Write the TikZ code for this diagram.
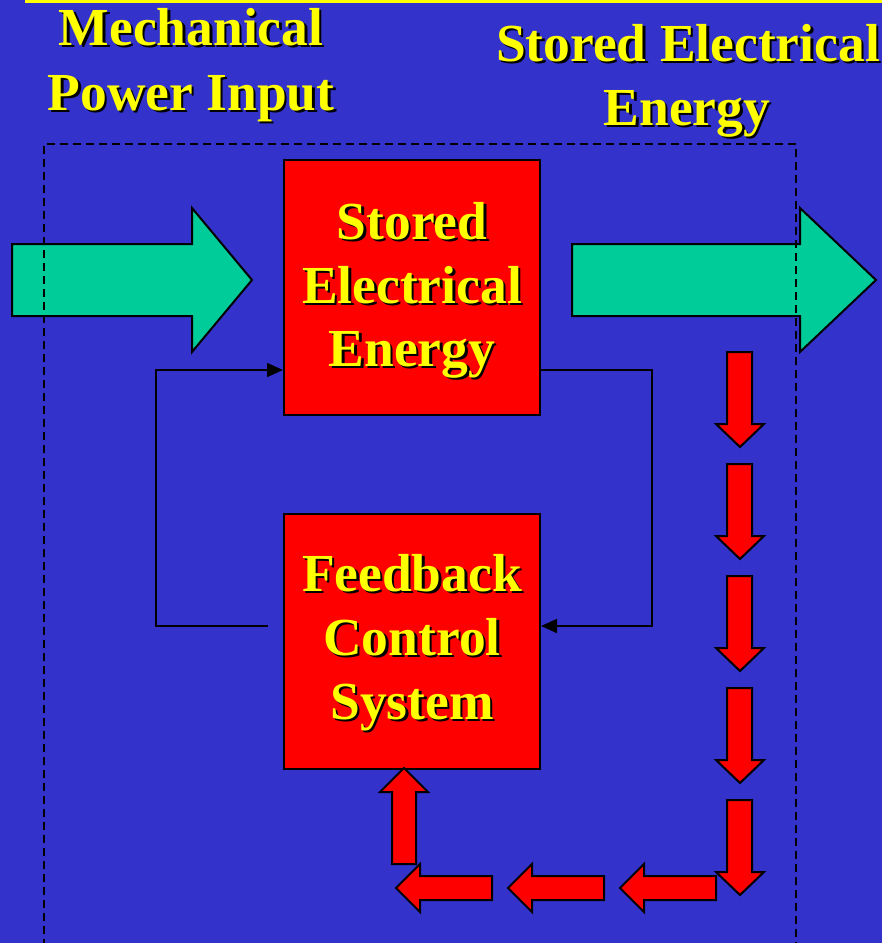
\documentclass[tikz,border=0pt]{standalone}
\usepackage{fontspec}
\setmainfont{Liberation Serif}
\usetikzlibrary{arrows.meta}
\definecolor{bg}{RGB}{51,51,204}
\definecolor{boxred}{RGB}{255,0,0}
\definecolor{flowgreen}{RGB}{0,204,153}
\definecolor{txtyellow}{RGB}{255,255,0}
\tikzset{
  blockbox/.style={draw=black, line width=2pt, fill=boxred, minimum width=256pt, minimum height=255pt, inner sep=0pt},
  greenflow/.style={draw=black, line width=2pt, fill=flowgreen, line join=miter},
  redflow/.style={draw=black, line width=2pt, fill=boxred, line join=miter},
  loopline/.style={draw=black, line width=1.6pt, -{Triangle[length=16pt,width=14pt]}},
  dashframe/.style={draw=black, line width=1.5pt, dash pattern=on 8pt off 5pt},
  lbltext/.style={font=\fontsize{53.5}{63}\selectfont\bfseries, text=txtyellow, anchor=base, inner sep=0pt},
}
\newcommand\shtext[4]{%
  \node[lbltext] (#1) at (#2,#3) {\rlap{\hspace{2.5pt}\raisebox{-2.5pt}{\color{black}#4}}#4};}
\newcommand\reddownblk[1]{%
  \draw[redflow] (727,#1) -- (752,#1) -- (752,#1+72) -- (764,#1+72) -- (740,#1+95) -- (716,#1+72) -- (727,#1+72) -- cycle;}
\newcommand\redleftblk[1]{%
  \draw[redflow] (#1,876) -- (#1,900) -- (#1-72,900) -- (#1-72,912) -- (#1-96,888) -- (#1-72,864) -- (#1-72,876) -- cycle;}
\begin{document}
\begin{tikzpicture}[x=1pt,y=-1pt]
\useasboundingbox (0,0) rectangle (882,943);
\clip (0,0) rectangle (882,943);
\fill[bg] (0,0) rectangle (882,943);
\fill[txtyellow] (25,0) rectangle (882,2.5);

% green flow arrows
\draw[greenflow] (12,244) -- (192,244) -- (192,208) -- (252,280) -- (192,352) -- (192,316) -- (12,316) -- cycle;
\draw[greenflow] (572,244) -- (800,244) -- (800,208) -- (876,280) -- (800,352) -- (800,316) -- (572,316) -- cycle;

% dashed system boundary
\draw[dashframe] (44,960) -- (44,144) -- (796,144) -- (796,960);

% blocks
\node[blockbox] (store) at (412,287.5) {};
\node[blockbox] (ctrl) at (412,641.5) {};

% feedback loop
\coordinate (r1) at (652,370);
\coordinate (r2) at (652,626);
\draw[loopline] (store.east |- r1) -- (r1) -- (r2) -- (ctrl.east |- r2);
\coordinate (lstart) at (268,626);
\coordinate (l1) at (156,626);
\coordinate (l2) at (156,370);
\draw[loopline] (lstart) -- (l1) -- (l2) -- (store.west |- l2);

% red energy flow arrows
\reddownblk{352}
\reddownblk{464}
\reddownblk{576}
\reddownblk{688}
\reddownblk{800}
\redleftblk{716}
\redleftblk{604}
\redleftblk{492}
\draw[redflow] (392,864) -- (416,864) -- (416,792) -- (428,792) -- (404,768) -- (380,792) -- (392,792) -- cycle;

% texts
\shtext{t1}{191}{45}{Mechanical}
\shtext{t2}{191}{110}{Power Input}
\shtext{t3}{688}{61}{Stored Electrical}
\shtext{t4}{687}{125}{Energy}
\shtext{b1}{412}{239}{Stored}
\shtext{b2}{412}{303}{Electrical}
\shtext{b3}{412}{366}{Energy}
\shtext{c1}{412}{591}{Feedback}
\shtext{c2}{412}{655}{Control}
\shtext{c3}{412}{719}{System}
\end{tikzpicture}
\end{document}
